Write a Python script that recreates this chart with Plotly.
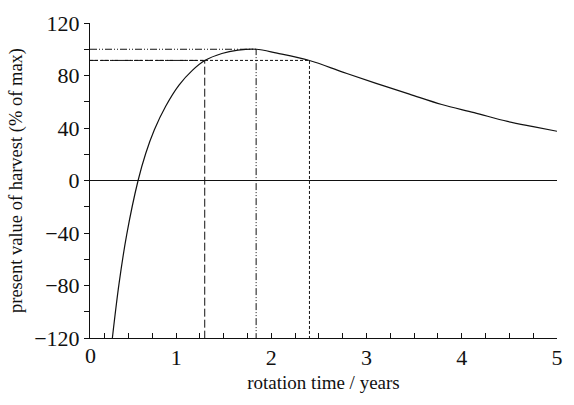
import plotly.graph_objects as go

# rotation time (years) and present value of harvest (% of max)
rotation_time = [0.33, 0.40, 0.48, 0.60, 0.68, 0.77, 0.89, 1.03, 1.17, 1.30, 1.48, 1.65,
                 1.84, 2.06, 2.40, 2.75, 3.10, 3.45, 3.79, 4.13, 4.48, 4.75, 5.00]
present_value = [-120, -78.6, -41.4, 0.0, 20.6, 38.5, 56.6, 72.7, 83.9, 91.4, 96.8, 99.3,
                 100.0, 97.0, 91.4, 82.6, 74.0, 65.8, 57.9, 51.7, 45.0, 41.0, 37.5]

# marker lines
optimum_time = 1.84
optimum_value = 100.0
lower_time = 1.30
upper_time = 2.40
threshold_value = 91.5

x_min, x_max = 0.095, 5.0
y_min, y_max = -120, 120

x_tick_vals = [1, 2, 3, 4, 5]
y_tick_vals = [-120, -80, -40, 0, 40, 80, 120]

FONT = "Liberation Serif"
INK = "#111111"

fig = go.Figure()

# dash-dot: optimum
fig.add_trace(go.Scatter(x=[x_min, optimum_time, optimum_time],
                         y=[optimum_value, optimum_value, y_min],
                         mode="lines", line=dict(color=INK, width=1, dash="7px,2px,1px,2px,1px,2px"),
                         hoverinfo="skip"))
# long dash: lower bound
fig.add_trace(go.Scatter(x=[x_min, lower_time, lower_time],
                         y=[threshold_value, threshold_value, y_min],
                         mode="lines", line=dict(color=INK, width=1, dash="8px,3px"),
                         hoverinfo="skip"))
# short dash: upper bound
fig.add_trace(go.Scatter(x=[x_min, upper_time, upper_time],
                         y=[threshold_value, threshold_value, y_min],
                         mode="lines", line=dict(color=INK, width=1, dash="3px,2px"),
                         hoverinfo="skip"))
# main curve
fig.add_trace(go.Scatter(x=rotation_time, y=present_value, mode="lines",
                         line=dict(color=INK, width=1.2, shape="spline", smoothing=1.0)))

fig.update_layout(
    width=574, height=405,
    margin=dict(l=90, r=11, t=16, b=67),
    paper_bgcolor="white", plot_bgcolor="white",
    showlegend=False,
    font=dict(family=FONT, color=INK),
)

fig.update_xaxes(
    range=[x_min, x_max], showgrid=False, zeroline=False,
    showline=True, linecolor=INK, linewidth=1,
    tickvals=x_tick_vals, ticks="inside", ticklen=5, tickcolor=INK,
    minor=dict(dtick=0.25, tick0=0, ticks="inside", ticklen=5, tickcolor=INK),
    tickfont=dict(size=22, family=FONT),
    title=dict(text="rotation time / years", font=dict(size=19, family=FONT), standoff=6),
)
fig.update_yaxes(
    range=[y_min, y_max], showgrid=False,
    zeroline=True, zerolinecolor=INK, zerolinewidth=1,
    showline=True, linecolor=INK, linewidth=1,
    tickvals=y_tick_vals, ticktext=["\u2212120", "\u221280", "\u221240", "0", "40", "80", "120"],
    ticks="outside", ticklen=5, tickcolor=INK,
    minor=dict(dtick=20, tick0=0, ticks="outside", ticklen=5, tickcolor=INK),
    tickfont=dict(size=22, family=FONT),
    title=dict(text="present value of harvest (% of max)", font=dict(size=18.5, family=FONT), standoff=6),
)

# label for the axis origin
fig.add_annotation(x=x_min, y=y_min, xref="x", yref="y", text="0", showarrow=False,
                   yanchor="top", yshift=-3, font=dict(size=22, family=FONT, color=INK))

fig.write_html("out.html")
